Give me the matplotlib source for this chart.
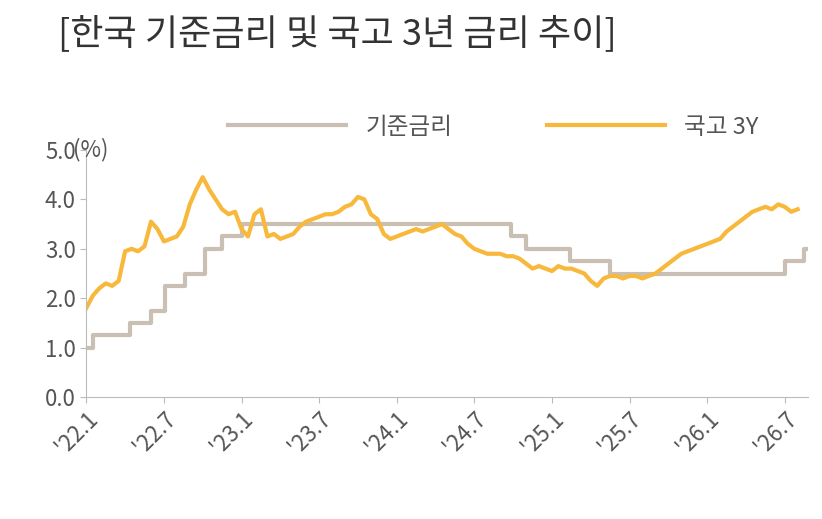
import matplotlib
matplotlib.use("Agg")
import matplotlib.pyplot as plt

plt.rcParams['font.family'] = ['Noto Sans CJK KR', 'DejaVu Sans']

# months since 2022.01
base_x = [0, 0.5, 3.4, 5.0, 6.1, 7.6, 9.2, 10.5, 12.0, 32.8, 34.0, 37.4, 40.5, 54.0, 55.5, 55.8]
base_y = [1.0, 1.25, 1.5, 1.75, 2.25, 2.5, 3.0, 3.25, 3.5, 3.25, 3.0, 2.75, 2.5, 2.75, 3.0, 3.0]

ktb3y = [1.80,2.05,2.20,2.30,2.25,2.35,2.95,3.00,2.95,3.05,3.55,3.40,3.15,3.20,3.25,3.45,3.90,4.20,4.45,4.20,4.00,3.80,3.70,3.75,
         3.40,3.25,3.70,3.80,3.25,3.30,3.20,3.25,3.30,3.45,3.55,3.60,3.65,3.70,3.70,3.75,3.85,3.90,4.05,4.00,3.70,3.60,3.30,3.20,
         3.25,3.30,3.35,3.40,3.35,3.40,3.45,3.50,3.40,3.30,3.25,3.10,3.00,2.95,2.90,2.90,2.90,2.85,2.85,2.80,2.70,2.60,2.65,2.60,
         2.55,2.65,2.60,2.60,2.55,2.50,2.35,2.25,2.40,2.45,2.45,2.40,2.45,2.45,2.40,2.45,2.50,2.60,2.70,2.80,2.90,2.95,3.00,3.05,
         3.10,3.15,3.20,3.35,3.45,3.55,3.65,3.75,3.80,3.85,3.80,3.90,3.85,3.75,3.80]
ktb_x = [i * 0.5 for i in range(len(ktb3y))]

xtick_pos = [0, 6, 12, 18, 24, 30, 36, 42, 48, 54]
xtick_labels = ["'22.1", "'22.7", "'23.1", "'23.7", "'24.1", "'24.7", "'25.1", "'25.7", "'26.1", "'26.7"]

fig = plt.figure(figsize=(8.22, 5.19), dpi=100)
ax = fig.add_axes([0.105, 0.235, 0.878, 0.476])
ax.plot(base_x, base_y, drawstyle='steps-post', color='#c9bfb3', lw=3, label='기준금리')
ax.plot(ktb_x, ktb3y, color='#f8b83c', lw=3, label='국고 3Y')
ax.set_xlim(0, 55.8)
ax.set_ylim(0, 5)
ax.set_yticks([0, 1, 2, 3, 4, 5])
ax.set_yticklabels([f"{v:.1f}" for v in [0, 1, 2, 3, 4, 5]], fontsize=16, color='#555555')
ax.set_xticks(xtick_pos)
ax.set_xticklabels(xtick_labels, rotation=45, ha='right', rotation_mode='anchor', fontsize=16, color='#555555')
for s in ['top', 'right']:
    ax.spines[s].set_visible(False)
for s in ['left', 'bottom']:
    ax.spines[s].set_color('#bbbbbb')
ax.tick_params(axis='both', length=4, color='#bbbbbb')
ax.text(-1.0, 5.0, '(%)', fontsize=16, color='#555555', va='center', ha='left')
fig.legend(loc='center', bbox_to_anchor=(0.6, 0.755), ncol=2, frameon=False, fontsize=17,
           handlelength=5, columnspacing=4, labelcolor='#555555')
fig.text(0.07, 0.915, '[한국 기준금리 및 국고 3년 금리 추이]', ha='left', fontsize=26,
         fontweight='medium', color='#333333')
fig.savefig('out.png', dpi=100)
